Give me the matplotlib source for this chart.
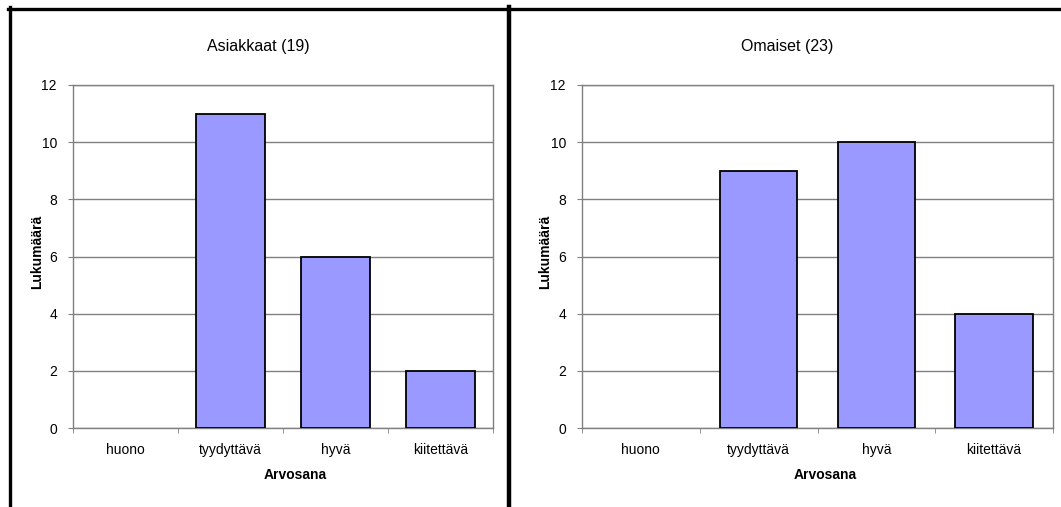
import matplotlib
matplotlib.use("Agg")
import matplotlib.pyplot as plt
from matplotlib.lines import Line2D
import numpy as np

plt.rcParams['font.family'] = ['Liberation Sans', 'DejaVu Sans']

categories = ["huono", "tyydyttävä", "hyvä", "kiitettävä"]
asiakkaat = [0, 11, 6, 2]
omaiset = [0, 9, 10, 4]
titles = ["Asiakkaat (19)", "Omaiset (23)"]
yticks = [0, 2, 4, 6, 8, 10, 12]

W, H = 1061, 507
fig = plt.figure(figsize=(W / 100, H / 100), dpi=100)
fig.patch.set_facecolor("white")


def fx(px):
    return px / W


def fy(py):
    return 1 - py / H


panels = [
    dict(values=asiakkaat, title=titles[0], ax=(73, 493), title_x=258, xlabel_x=295, ylabel_x=37),
    dict(values=omaiset, title=titles[1], ax=(582, 1053), title_x=787, xlabel_x=825, ylabel_x=545),
]
top_px, bottom_px = 85, 428
grid_col = "#808080"

for p in panels:
    x0, x1 = p["ax"]
    ax = fig.add_axes([fx(x0), fy(bottom_px), fx(x1 - x0), (bottom_px - top_px) / H])
    x = np.arange(len(categories))
    bars = ax.bar(x, p["values"], width=0.66, color="#9999FF", edgecolor="black",
                  linewidth=1.3, zorder=3)
    for b, v in zip(bars, p["values"]):
        if v == 0:
            b.set_visible(False)
    ax.set_xlim(-0.5, len(categories) - 0.5)
    ax.set_ylim(0, 12)
    ax.set_yticks(yticks)
    ax.yaxis.grid(True, color=grid_col, linewidth=1.0, zorder=0)
    for s in ax.spines.values():
        s.set_color(grid_col)
        s.set_linewidth(1.0)
    ax.tick_params(axis="y", direction="out", length=3.6, color=grid_col, labelsize=10, pad=8)
    ax.set_xticks(x)
    ax.set_xticklabels(categories)
    ax.tick_params(axis="x", which="major", length=0, labelsize=10, pad=11)
    ax.set_xticks(np.arange(-0.5, len(categories)), minor=True)
    ax.tick_params(axis="x", which="minor", direction="out", length=3.6, color=grid_col)
    fig.text(fx(p["title_x"]), fy(46), p["title"], ha="center", va="center", fontsize=11.5)
    fig.text(fx(p["xlabel_x"]), fy(475), "Arvosana", ha="center", va="center",
             fontsize=10, fontweight="bold")
    fig.text(fx(p["ylabel_x"]), fy(252), "Lukumäärä", ha="center", va="center",
             fontsize=10, fontweight="bold", rotation=90)

# frame lines around the chart areas
fig.add_artist(Line2D([fx(8), 1], [fy(8.5), fy(8.5)], color="black", linewidth=2.4,
                      transform=fig.transFigure))
fig.add_artist(Line2D([fx(9.5), fx(9.5)], [fy(7), 0], color="black", linewidth=2.4,
                      transform=fig.transFigure))
fig.add_artist(Line2D([fx(509), fx(509)], [fy(7), 0], color="black", linewidth=3.2,
                      transform=fig.transFigure))

fig.savefig("out.png", dpi=100, facecolor="white")
